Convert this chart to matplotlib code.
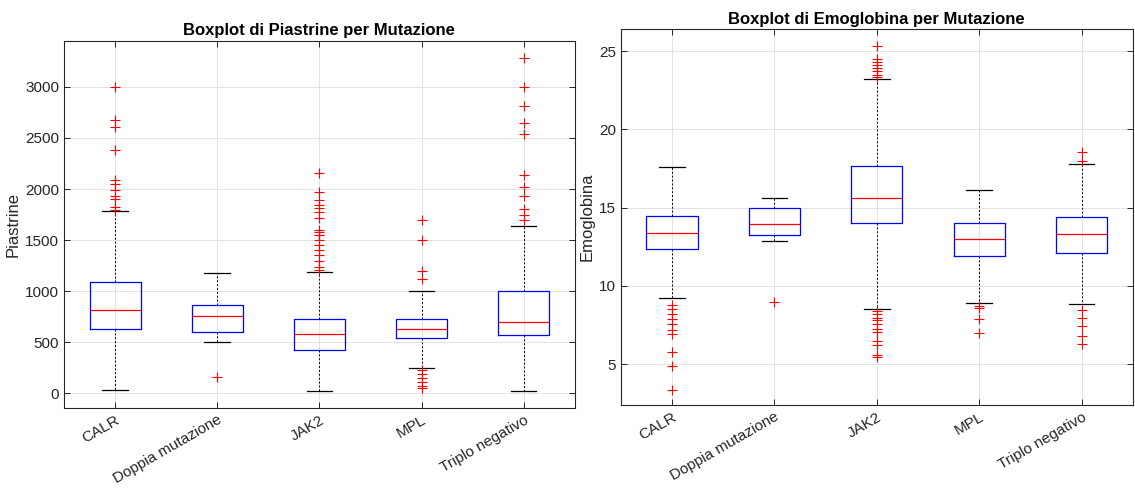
import numpy as np
import matplotlib
matplotlib.use("Agg")
import matplotlib.pyplot as plt

plt.rcParams['font.family'] = ['Liberation Sans', 'DejaVu Sans']

mutazioni = ['CALR', 'Doppia mutazione', 'JAK2', 'MPL', 'Triplo negativo']

# Piastrine - box statistics
piast_q1 = [626, 600, 420, 535, 564]
piast_med = [812, 753, 580, 626, 698]
piast_q3 = [1086, 861, 727, 730, 1004]
piast_whislo = [26, 502, 16, 241, 23]
piast_whishi = [1784, 1180, 1190, 1001, 1637]
piast_fliers = [
    [3000, 2680, 2605, 2382, 2088, 2052, 1993, 1928, 1902, 1824, 1797],
    [153],
    [2154, 1971, 1895, 1840, 1814, 1775, 1713, 1601, 1578, 1552, 1500,
     1549, 1451, 1402, 1353, 1298, 1239, 1206],
    [1695, 1500, 1200, 1115, 228, 189, 147, 104, 65, 52],
    [3284, 3000, 2810, 2647, 2539, 2134, 2016, 1931, 1804, 1748, 1699],
]

# Emoglobina
emo_q1 = [12.34, 13.22, 14.0, 11.91, 12.12]
emo_med = [13.38, 13.94, 15.6, 13.0, 13.28]
emo_q3 = [14.49, 14.94, 17.68, 14.0, 14.38]
emo_whislo = [9.21, 12.83, 8.50, 8.93, 8.82]
emo_whishi = [17.6, 15.6, 23.2, 16.1, 17.79]
emo_fliers = [
    [8.76, 8.54, 8.22, 7.90, 7.57, 7.19, 6.93, 5.75, 4.87, 3.33],
    [8.99],
    [25.32, 24.51, 24.30, 24.08, 23.9, 23.7, 23.5, 23.35,
     8.37, 8.22, 7.96, 7.79, 7.57, 7.25, 7.04, 6.50, 6.24, 5.58, 5.43],
    [8.69, 8.58, 7.9, 6.97],
    [18.53, 18.0, 8.43, 7.96, 7.40, 6.80, 6.29],
]


def make_stats(q1, med, q3, lo, hi, fl):
    return [dict(q1=a, med=b, q3=c, whislo=d, whishi=e, fliers=f, label=n)
            for a, b, c, d, e, f, n in zip(q1, med, q3, lo, hi, fl, mutazioni)]


def draw(ax, stats, title, ylabel, ylim, yticks):
    ax.bxp(stats, widths=0.5, showfliers=True,
           boxprops=dict(color='#0000ff', linewidth=0.9),
           medianprops=dict(color='#ff0000', linewidth=0.9),
           whiskerprops=dict(color='black', linestyle=(0, (2, 2)), linewidth=0.7),
           capprops=dict(color='black', linewidth=0.9),
           flierprops=dict(marker='+', markeredgecolor='#ff0000', markersize=7.5,
                           markeredgewidth=0.8, linestyle='none'))
    ax.set_xlim(0.5, 5.5)
    ax.set_ylim(*ylim)
    ax.set_yticks(yticks)
    ax.set_title(title, fontsize=12, fontweight='bold', pad=4)
    ax.set_ylabel(ylabel, fontsize=12, color='#262626', labelpad=3)
    ax.grid(True, color='#e3e3e3', linewidth=0.7)
    ax.set_axisbelow(True)
    ax.tick_params(direction='in', top=True, right=True, length=4,
                   labelsize=11, colors='#262626', width=0.7)
    plt.setp(ax.get_xticklabels(), rotation=30, ha='right', rotation_mode='anchor')
    for s in ax.spines.values():
        s.set_color('#262626')
        s.set_linewidth(0.8)


fig = plt.figure(figsize=(11.35, 4.92), dpi=100)
ax1 = fig.add_axes([0.0564, 0.1707, 0.450, 0.746])
ax2 = fig.add_axes([0.547, 0.1768, 0.451, 0.764])

draw(ax1, make_stats(piast_q1, piast_med, piast_q3, piast_whislo, piast_whishi, piast_fliers),
     'Boxplot di Piastrine per Mutazione', 'Piastrine', (-147, 3451),
     [0, 500, 1000, 1500, 2000, 2500, 3000])
draw(ax2, make_stats(emo_q1, emo_med, emo_q3, emo_whislo, emo_whishi, emo_fliers),
     'Boxplot di Emoglobina per Mutazione', 'Emoglobina', (2.38, 26.4),
     [5, 10, 15, 20, 25])

fig.savefig('out.png', dpi=100)
